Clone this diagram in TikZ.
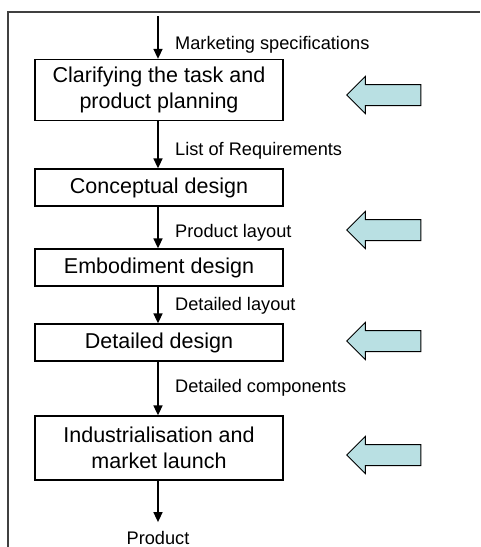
\documentclass[tikz,border=0pt]{standalone}
\usepackage{fontspec}
\setmainfont{Liberation Sans}
\usetikzlibrary{arrows.meta,shapes.arrows}

\definecolor{inputblue}{HTML}{B9E0E3}

\tikzset{
  stage/.style={draw,line width=1.3pt,minimum width=248pt,minimum height=37pt,
    align=center,font=\fontsize{21.5}{25.5}\selectfont},
  flow/.style={line width=1.6pt,-{Triangle[length=10pt,width=9pt]}},
  flowlabel/.style={anchor=west,inner sep=0pt,font=\fontsize{18.2}{21}\selectfont},
  feed/.style={single arrow,shape border rotate=180,draw,line width=1pt,fill=inputblue,
    minimum height=74pt,minimum width=36pt,single arrow head extend=8pt,inner sep=10pt}
}

\begin{document}
\begin{tikzpicture}[x=1pt,y=-1pt]
  \useasboundingbox (0,0) rectangle (480,547);
  % frame
  \draw[black!75,line width=2pt] (8,547) -- (8,12) -- (480,12);

  \coordinate (start) at (158,16);
  \node[stage,minimum height=61pt] (task) at (159,90) {Clarifying the task and\\product planning};
  \node[stage] (concept) at (159,187.5) {Conceptual design};
  \node[stage] (embod) at (159,267.5) {Embodiment design};
  \node[stage] (detail) at (159,342.5) {Detailed design};
  \node[stage,minimum height=64pt] (launch) at (159,448) {Industrialisation and\\market launch};
  \node[font=\fontsize{18.2}{21}\selectfont,inner sep=5pt] (product) at (158,538) {Product};

  \draw[flow] (start) -- (task.north -| start);
  \draw[flow] (task.south -| start) -- (concept.north -| start);
  \draw[flow] (concept.south -| start) -- (embod.north -| start);
  \draw[flow] (embod.south -| start) -- (detail.north -| start);
  \draw[flow] (detail.south -| start) -- (launch.north -| start);
  \draw[flow] (launch.south -| start) -- ([yshift=4pt]product.north -| start);

  \node[flowlabel] (spec) at (175,45) {Marketing specifications};
  \node[flowlabel] (req) at (175,151) {List of Requirements};
  \node[flowlabel] (playout) at (175,233) {Product layout};
  \node[flowlabel] (dlayout) at (175,306) {Detailed layout};
  \node[flowlabel] (comp) at (175,388) {Detailed components};

  % inputs from the side
  \node[feed] (in1) at (389,95) {};
  \node[feed] (in2) at (389,230) {};
  \node[feed] (in3) at (389,341) {};
  \node[feed] (in4) at (389,455) {};
\end{tikzpicture}
\end{document}
